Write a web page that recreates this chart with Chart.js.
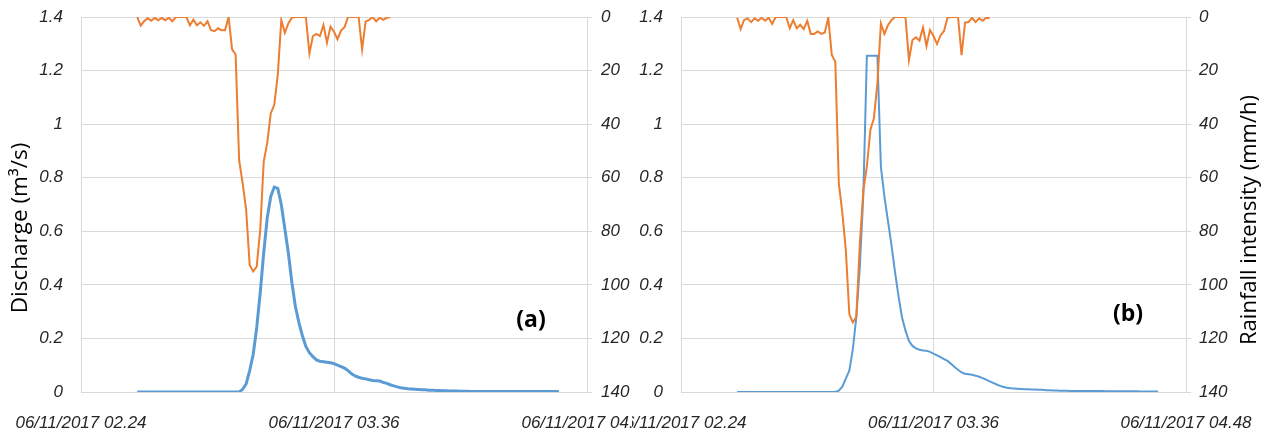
<!DOCTYPE html>
<html>
<head>
<meta charset="utf-8">
<script src="https://cdn.jsdelivr.net/npm/chart.js"></script>
<style>
  body { margin: 0; background: #fff; }
  #wrap { position: relative; width: 1268px; height: 430px; overflow: hidden; background: #fff; }
  canvas { position: absolute; top: 0; }
  #chartA { left: 0; }
  #chartB { left: 632px; }
</style>
</head>
<body>
<div id="wrap">
  <canvas id="chartA" width="632" height="430"></canvas>
  <canvas id="chartB" width="636" height="430"></canvas>
</div>
<script>
// time axis: minutes after 06/11/2017 02.24, one reading per minute
const X_TICK_MIN = [0, 72, 144];
const X_TICK_LABELS = ['06/11/2017 02.24', '06/11/2017 03.36', '06/11/2017 04.48'];
const RAIN_START = 16;   // first rainfall reading (02.40)
const FLOW_START = 16;   // first discharge reading (02.40)

// rainfall intensity (mm/h), panel (a)
const rainA = [
  0, 3.2, 1.5, 0.5, 1.4, 0.3, 1.2, 0.3, 1.2, 0.3, 1.6, 0, 0, 0, 0, 3.1, 1, 3.1, 2, 3.3,
  1.6, 4.9, 5.3, 4.2, 4.9, 4.9, 0, 12.1, 14, 53.4, 62, 72, 92.6, 95, 93.2, 79.5, 54, 47, 36, 32.8,
  21.6, 1.1, 5.9, 2.4, 0.3, 0, 0, 0, 0, 13.6, 7.1, 6.3, 7.1, 3, 9.6, 3.6, 5.5, 8.3, 5.1, 3.8,
  0, 0, 0, 0, 12.1, 1.7, 1.1, 0, 1.6, 0.3, 1.1, 0.3, 0
];

// rainfall intensity (mm/h), panel (b)
const rainB = [
  0.3, 4.5, 1.1, 0.5, 1.9, 0.5, 1.4, 0.3, 1.4, 0.3, 2.6, 0, 0, 0, 0, 4.2, 1.2, 4.2, 2.9, 4.5,
  1.4, 6.3, 6.3, 5.4, 6.3, 5.8, 0.3, 14.2, 16.7, 62, 73, 87, 111, 114, 112, 84.5, 64.6, 55.9, 42.2, 37.8,
  24.8, 2.4, 6.3, 3.1, 1.2, 0, 0, 0, 0, 16, 8.6, 7.6, 8.8, 3.9, 10.8, 4.9, 7.1, 10.1, 6.9, 5.2,
  0.3, 0, 0, 0, 14.2, 2.1, 1.9, 0.3, 1.9, 0.5, 1.4, 0.3, 0.5
];

// discharge (m3/s), panel (a)
const flowA = [
  0, 0, 0, 0, 0, 0, 0, 0, 0, 0, 0, 0, 0, 0, 0, 0, 0, 0, 0, 0,
  0, 0, 0, 0, 0, 0, 0, 0, 0, 0, 0.01, 0.03, 0.08, 0.14, 0.24, 0.37, 0.52, 0.65, 0.73, 0.765,
  0.76, 0.70, 0.61, 0.52, 0.41, 0.32, 0.26, 0.21, 0.17, 0.147, 0.132, 0.12, 0.115, 0.113, 0.111, 0.109, 0.106, 0.1, 0.095, 0.089,
  0.08, 0.068, 0.06, 0.055, 0.051, 0.049, 0.046, 0.043, 0.042, 0.041, 0.036, 0.032, 0.027, 0.023, 0.019, 0.016, 0.014, 0.012, 0.011, 0.01,
  0.009, 0.008, 0.008, 0.007, 0.007, 0.006, 0.006, 0.005, 0.005, 0.004, 0.004, 0.004, 0.003, 0.003, 0.003, 0.002, 0.002, 0.002, 0.002, 0.002,
  0.002, 0.002, 0.002, 0.002, 0.002, 0.002, 0.002, 0.002, 0.002, 0.002, 0.002, 0.002, 0.002, 0.002, 0.002, 0.002, 0.002, 0.002, 0.002, 0.002,
  0.002
];

// discharge (m3/s), panel (b)
const flowB = [
  0, 0, 0, 0, 0, 0, 0, 0, 0, 0, 0, 0, 0, 0, 0, 0, 0, 0, 0, 0,
  0, 0, 0, 0, 0, 0, 0, 0, 0, 0.005, 0.02, 0.05, 0.08, 0.16, 0.28, 0.47, 0.74, 1.255, 1.255, 1.255,
  1.255, 0.84, 0.73, 0.64, 0.55, 0.45, 0.36, 0.28, 0.23, 0.19, 0.172, 0.163, 0.158, 0.155, 0.154, 0.15, 0.143, 0.137, 0.13, 0.123,
  0.116, 0.105, 0.093, 0.083, 0.073, 0.068, 0.066, 0.064, 0.061, 0.057, 0.052, 0.046, 0.04, 0.034, 0.028, 0.023, 0.019, 0.016, 0.014, 0.013,
  0.012, 0.011, 0.01, 0.01, 0.009, 0.009, 0.008, 0.008, 0.007, 0.007, 0.006, 0.006, 0.005, 0.005, 0.005, 0.004, 0.004, 0.004, 0.004, 0.004,
  0.004, 0.004, 0.004, 0.004, 0.004, 0.003, 0.003, 0.003, 0.003, 0.003, 0.003, 0.003, 0.003, 0.003, 0.003, 0.002, 0.002, 0.002, 0.002, 0.002,
  0.002
];

const ORANGE = '#ED7D31';
const BLUE = '#5B9BD5';
const GRID = '#d9d9d9';
const TICK_COLOR = '#262626';
const TICK_FONT = { family: '"Liberation Sans", Arial, sans-serif', size: 17, style: 'italic' };

// axis titles and panel letters are drawn here so they can sit where Excel put them
const annotations = {
  id: 'annotations',
  afterDraw(chart, args, o) {
    const ctx = chart.ctx;
    (o.items || []).forEach(t => {
      ctx.save();
      ctx.fillStyle = '#000';
      ctx.font = t.font;
      ctx.textAlign = 'center';
      ctx.textBaseline = 'middle';
      ctx.translate(t.x, t.y);
      if (t.rotate) ctx.rotate(t.rotate);
      ctx.fillText(t.text, 0, 0);
      ctx.restore();
    });
  }
};

function toPoints(values, start) {
  return values.map((v, i) => ({ x: start + i, y: v }));
}

function makePanel(id, rain, flow, p) {
  return new Chart(document.getElementById(id), {
    type: 'line',
    data: {
      datasets: [{
        label: 'Rainfall intensity',
        data: toPoints(rain, RAIN_START),
        yAxisID: 'y2',
        borderColor: ORANGE,
        borderWidth: 2,
        pointRadius: 0,
        tension: 0
      }, {
        label: 'Discharge',
        data: toPoints(flow, FLOW_START),
        yAxisID: 'y',
        borderColor: BLUE,
        borderWidth: p.flowWidth,
        pointRadius: 0,
        tension: 0
      }]
    },
    options: {
      responsive: false,
      animation: false,
      layout: { padding: { top: 17, left: 0, right: 0, bottom: 0 } },
      plugins: {
        legend: { display: false },
        tooltip: { enabled: false },
        annotations: { items: p.items }
      },
      scales: {
        x: {
          type: 'linear',
          min: 0,
          max: 144,
          ticks: {
            stepSize: 72,
            autoSkip: false,
            maxRotation: 0,
            padding: 21,
            color: TICK_COLOR,
            font: TICK_FONT,
            callback: v => X_TICK_LABELS[X_TICK_MIN.indexOf(v)]
          },
          grid: { color: GRID, drawTicks: false },
          border: { display: false },
          afterFit: s => { s.height = 38; s.paddingLeft = 0; s.paddingRight = 0; }
        },
        y: {
          position: 'left',
          min: 0,
          max: 1.4,
          ticks: {
            stepSize: 0.2,
            padding: 18,
            color: TICK_COLOR,
            font: TICK_FONT,
            callback: v => String(+v.toFixed(1))
          },
          grid: { color: GRID, drawTicks: false },
          border: { color: GRID },
          afterFit: s => { s.width = p.leftW; s.paddingTop = 0; s.paddingBottom = 0; }
        },
        y2: {
          position: 'right',
          reverse: true,
          min: 0,
          max: 140,
          ticks: {
            stepSize: 20,
            padding: p.rightPad,
            color: TICK_COLOR,
            font: TICK_FONT
          },
          grid: { drawOnChartArea: false, color: GRID, tickLength: 5 },
          border: { color: GRID },
          afterFit: s => { s.width = p.rightW; s.paddingTop = 0; s.paddingBottom = 0; }
        }
      }
    },
    plugins: [annotations]
  });
}

makePanel('chartA', rainA, flowA, {
  leftW: 81, rightW: 45, rightPad: 9, flowWidth: 3,
  items: [
    { text: 'Discharge (m³/s)', x: 21, y: 228, rotate: -Math.PI / 2, font: '22.5px "Open Sans", sans-serif' },
    { text: '(a)', x: 531, y: 320, font: 'bold 23px "Open Sans", sans-serif' }
  ]
});

makePanel('chartB', rainB, flowB, {
  leftW: 49, rightW: 82, rightPad: 8, flowWidth: 2,
  items: [
    { text: 'Rainfall intensity (mm/h)', x: 618, y: 220, rotate: -Math.PI / 2, font: '22px "Open Sans", sans-serif' },
    { text: '(b)', x: 496, y: 314, font: 'bold 23px "Open Sans", sans-serif' }
  ]
});
</script>
</body>
</html>
